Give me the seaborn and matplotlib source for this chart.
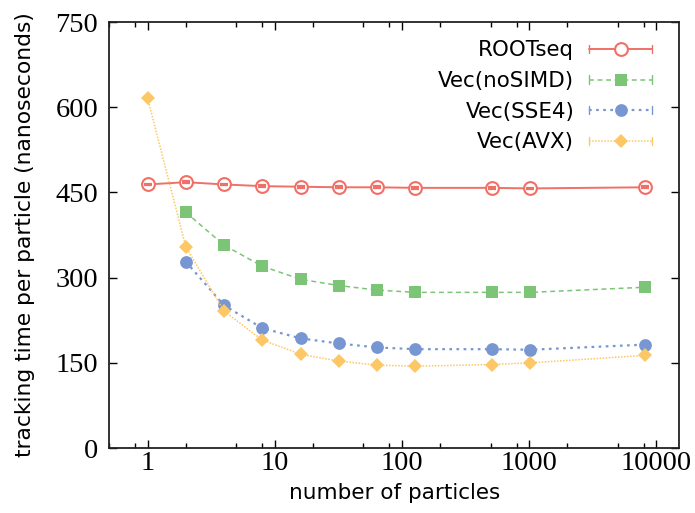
import numpy as np
import pandas as pd
import seaborn as sns
import matplotlib
matplotlib.use("Agg")
import matplotlib.pyplot as plt
from matplotlib.lines import Line2D
from matplotlib.legend_handler import HandlerLine2D
from matplotlib.ticker import FixedLocator, FixedFormatter, NullFormatter

# number of particles per run
particles = [1, 2, 4, 8, 16, 32, 64, 128, 512, 1024, 8192]

# tracking time per particle (ns)
root_seq = [464, 468, 464, 461, 460, 459, 459, 458, 458, 457, 459]
root_seq_err = [1.5, 1.5, 1.5, 1.5, 1.5, 1.5, 1.5, 1.5, 1.5, 1.5, 1.5]
vec_nosimd = [np.nan, 415, 357, 320, 297, 286, 278, 274, 274, 274, 283]
vec_sse4 = [np.nan, 328, 251, 211, 193, 184, 177, 174, 174, 173, 182]
vec_avx = [616, 354, 241, 190, 165, 153, 146, 144, 147, 150, 163]

series_names = ["ROOTseq", "Vec(noSIMD)", "Vec(SSE4)", "Vec(AVX)"]
colors = ["#F07068", "#7CC576", "#7896D2", "#FDC765"]

x_ticks = [1, 10, 100, 1000, 10000]
x_tick_labels = ["1", "10", "100", "1000", "10000"]
y_ticks = [0, 150, 300, 450, 600, 750]
y_tick_labels = ["0", "150", "300", "450", "600", "750"]

df = pd.DataFrame({
    "particles": particles * 4,
    "time": root_seq + vec_nosimd + vec_sse4 + vec_avx,
    "series": sum([[n] * len(particles) for n in series_names], []),
})

sns.set_theme(style="white")
plt.rcParams["font.family"] = ["DejaVu Sans"]

fig = plt.figure(figsize=(6.95, 5.13), dpi=100)
ax = fig.add_axes([0.1573, 0.1267, 0.8197, 0.8304])

styles = {
    "ROOTseq": dict(ls="-", lw=1.4, marker="o", ms=9.2, mfc="white", mew=1.5),
    "Vec(noSIMD)": dict(ls=(0, (3.2, 2.4)), lw=1.1, marker="s", ms=9.2, mew=0),
    "Vec(SSE4)": dict(ls=(0, (1.2, 2.0)), lw=1.6, marker="o", ms=9.2, mew=0),
    "Vec(AVX)": dict(ls=(0, (1.0, 1.0)), lw=1.1, marker="D", ms=7.4, mew=0),
}

handles = []
for name, col in zip(series_names, colors):
    sub = df[df["series"] == name].dropna()
    st = styles[name]
    sns.lineplot(data=sub, x="particles", y="time", ax=ax, color=col,
                 linestyle=st["ls"], linewidth=st["lw"], marker=st["marker"],
                 markersize=st["ms"], markerfacecolor=st.get("mfc", col),
                 markeredgecolor=col, markeredgewidth=st["mew"],
                 legend=False, zorder=3)
    handles.append(Line2D([], [], color=col, linestyle=st["ls"], linewidth=st["lw"],
                          marker=st["marker"], markersize=st["ms"],
                          markerfacecolor=st.get("mfc", col), markeredgecolor=col,
                          markeredgewidth=st["mew"]))

# error bars of the sequential reference
ax.errorbar(particles, root_seq, yerr=root_seq_err, fmt="none", ecolor=colors[0],
            elinewidth=1.2, capsize=3.2, capthick=1.6, zorder=4)

ax.set_xscale("log")
ax.set_xlim(0.5, 15200)
ax.set_ylim(0, 750)

ax.xaxis.set_major_locator(FixedLocator(x_ticks))
ax.xaxis.set_major_formatter(FixedFormatter(x_tick_labels))
minor = [m * 10.0 ** e for e in range(-1, 5) for m in (2, 5, 8)]
ax.xaxis.set_minor_locator(FixedLocator(minor))
ax.xaxis.set_minor_formatter(NullFormatter())
ax.yaxis.set_major_locator(FixedLocator(y_ticks))
ax.yaxis.set_major_formatter(FixedFormatter(y_tick_labels))

ax.tick_params(which="both", direction="in", top=True, right=True,
               bottom=True, left=True, color="black")
ax.tick_params(which="major", length=6, width=1.0)
ax.tick_params(which="minor", length=3.5, width=1.0)
ax.tick_params(axis="x", which="major", pad=2)
ax.tick_params(axis="y", which="major", pad=8)
for lab in ax.get_xticklabels() + ax.get_yticklabels():
    lab.set_family("Liberation Serif")
    lab.set_fontsize(20.5)
    lab.set_color("black")

for sp in ax.spines.values():
    sp.set_visible(True)
    sp.set_color("#222222")
    sp.set_linewidth(1.3)

ax.set_xlabel("number of particles", fontsize=15.5, color="black", labelpad=5)
ax.set_ylabel("tracking time per particle (nanoseconds)", fontsize=15.7,
              color="black", labelpad=15)


class CappedLineHandler(HandlerLine2D):
    def create_artists(self, legend, orig_handle, xdescent, ydescent, width,
                       height, fontsize, trans):
        artists = super().create_artists(legend, orig_handle, xdescent, ydescent,
                                         width, height, fontsize, trans)
        y = height / 2 - ydescent
        h = height * 0.28
        for x in (-xdescent, width - xdescent):
            cap = Line2D([x, x], [y - h, y + h], color=orig_handle.get_color(),
                         lw=1.0)
            cap.set_transform(trans)
            artists.append(cap)
        return artists


leg = ax.legend(handles, series_names, loc="upper right",
                bbox_to_anchor=(0.972, 0.982), frameon=False, markerfirst=False,
                fontsize=15.4, handlelength=2.95, handletextpad=0.7,
                labelspacing=0.5, borderpad=0, numpoints=1,
                handler_map={Line2D: CappedLineHandler()})
for t in leg.get_texts():
    t.set_color("black")

fig.savefig("out.png", dpi=100, facecolor="white")
